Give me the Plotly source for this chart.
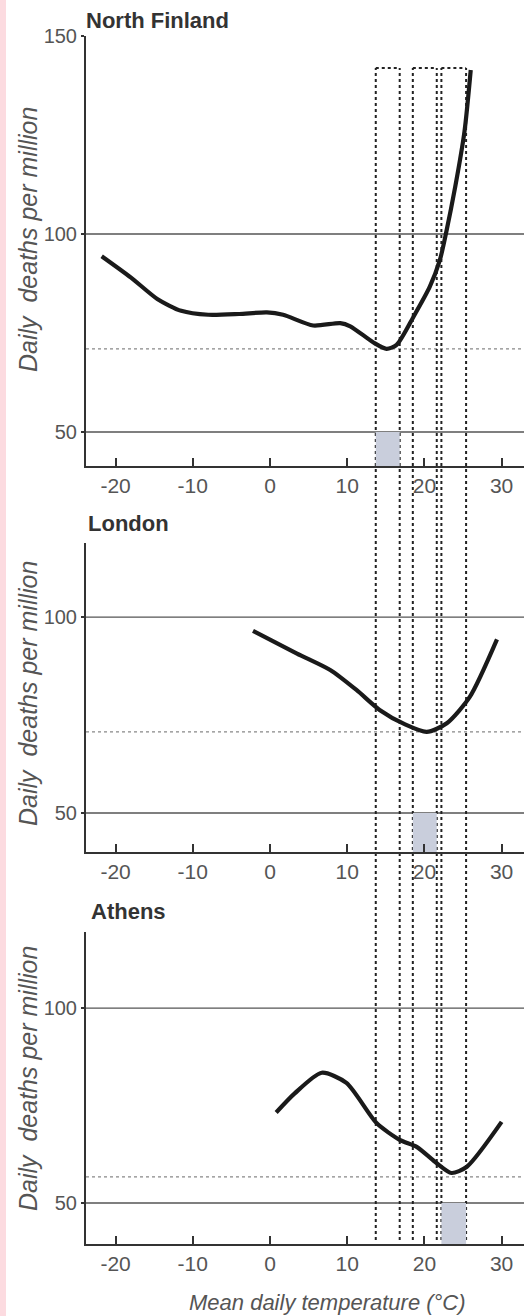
import plotly.graph_objects as go

# ---------------- data ----------------
panel_titles = ["North Finland", "London", "Athens"]

temps_finland = [-21.8, -18.0, -14.6, -11.5, -8.0, -4.0, -0.4, 1.7, 5.6, 9.1, 10.4,
                 13.4, 15.1, 16.4, 18.7, 20.7, 22.0, 22.8, 24.0, 25.2, 26.0]
deaths_finland = [94.4, 89.0, 83.6, 80.6, 79.6, 79.8, 80.2, 79.6, 76.9, 77.5, 76.7,
                  72.6, 71.0, 72.0, 79.5, 86.7, 93.4, 100.2, 112.0, 126.0, 141.4]

temps_london = [-2.2, 3.5, 7.8, 11.2, 14.2, 17.5, 20.3, 22.9, 25.9, 29.4]
deaths_london = [96.5, 90.7, 86.5, 81.4, 76.3, 72.6, 70.7, 72.9, 79.7, 94.3]

temps_athens = [0.8, 3.2, 6.7, 9.9, 13.8, 16.8, 19.0, 21.6, 23.5, 25.5, 30.0]
deaths_athens = [73.2, 78.1, 83.4, 80.8, 70.5, 66.2, 64.4, 60.2, 57.7, 59.3, 70.8]

minimum_levels = [71.0, 70.7, 56.7]          # dotted horizontal lines
reference_levels = [50, 100]                 # solid horizontal lines
optimum_ranges = [(13.7, 16.8), (18.5, 21.6), (22.2, 25.4)]  # dotted boxes / shading

x_ticks = [-20, -10, 0, 10, 20, 30]
y_ticks = [[50, 100, 150], [50, 100], [50, 100]]

# ---------------- layout helpers ----------------
W, H = 530, 1316
def py(p):
    return 1 - p / H
def px(p):
    return p / W

x_range = [-23.83, 32.9]
x_domain = [px(86), px(524)]
y_domains = [[py(466), py(36)], [py(852), py(543)], [py(1244), py(932)]]
y_ranges = [[41.41, 150], [40.05, 118.9], [39.49, 119.5]]

FONT = "Liberation Sans, Arial, sans-serif"
series = [(temps_finland, deaths_finland), (temps_london, deaths_london),
          (temps_athens, deaths_athens)]

fig = go.Figure()
shapes = []
annotations = []

for i, (t, d) in enumerate(series):
    n = "" if i == 0 else str(i + 1)
    xa, ya = "x" + n, "y" + n
    fig.add_trace(go.Scatter(
        x=t, y=d, mode="lines", xaxis=xa, yaxis=ya,
        line=dict(color="#1a1a1a", width=4.2, shape="spline", smoothing=0.7),
        showlegend=False, hoverinfo="skip"))

    axis_x = dict(domain=x_domain, range=x_range, anchor=ya, automargin=False,
                  tickvals=x_ticks, ticktext=[str(v) for v in x_ticks],
                  ticks="inside", ticklen=8, tickwidth=1.5, tickcolor="#333",
                  showline=True, linecolor="#333", linewidth=2,
                  showgrid=False, zeroline=False,
                  tickfont=dict(family=FONT, size=21, color="#555"))
    axis_y = dict(domain=y_domains[i], range=y_ranges[i], anchor=xa, automargin=False,
                  tickvals=y_ticks[i], ticktext=[str(v) for v in y_ticks[i]],
                  ticks="outside", ticklen=3, tickwidth=1.5, tickcolor="#333",
                  showline=True, linecolor="#333", linewidth=2,
                  showgrid=False, zeroline=False,
                  tickfont=dict(family=FONT, size=20, color="#555"))
    fig.update_layout(**{"xaxis" + n: axis_x, "yaxis" + n: axis_y})

    # shaded optimum band between axis and 50 line
    lo, hi = optimum_ranges[i]
    shapes.append(dict(type="rect", xref=xa, yref=ya, x0=lo, x1=hi,
                       y0=y_ranges[i][0], y1=reference_levels[0],
                       fillcolor="#c9cedc", line=dict(width=0), layer="below"))
    # reference lines
    for lvl in reference_levels:
        shapes.append(dict(type="line", xref="paper", yref=ya,
                           x0=x_domain[0], x1=x_domain[1], y0=lvl, y1=lvl,
                           line=dict(color="#555", width=1.3), layer="below"))
    # dotted minimum line
    shapes.append(dict(type="line", xref="paper", yref=ya,
                       x0=x_domain[0], x1=x_domain[1],
                       y0=minimum_levels[i], y1=minimum_levels[i],
                       line=dict(color="#888", width=1.3, dash="dot"), layer="below"))

    annotations.append(dict(
        text="<i>Daily\u00a0 deaths per million</i>", textangle=-90,
        xref="paper", yref="paper", x=px(28), y=py([240, 694, 1079][i]),
        xanchor="center", yanchor="middle", showarrow=False,
        font=dict(family=FONT, size=25, color="#555")))
    annotations.append(dict(
        text="<b>" + panel_titles[i] + "</b>",
        xref="paper", yref="paper", x=px([84, 86, 89][i]), y=py([21, 523, 911][i]),
        xanchor="left", yanchor="middle", showarrow=False,
        font=dict(family=FONT, size=22, color="#333")))

# dotted boxes spanning all panels
box_top, box_bottom = py(68), py(1240)
for lo, hi in optimum_ranges:
    for xv in (lo, hi):
        shapes.append(dict(type="line", xref="x", yref="paper", x0=xv, x1=xv,
                           y0=box_bottom, y1=box_top,
                           line=dict(color="#222", width=2, dash="dot"), layer="below"))
    shapes.append(dict(type="line", xref="x", yref="paper", x0=lo, x1=hi,
                       y0=box_top, y1=box_top,
                       line=dict(color="#222", width=2, dash="dot"), layer="below"))

# pink strip on the left
shapes.append(dict(type="rect", xref="paper", yref="paper", x0=0, x1=px(6), y0=0, y1=1,
                   fillcolor="#fcdbe0", line=dict(width=0), layer="below"))

annotations.append(dict(
    text="<i>Mean daily temperature (°C)</i>", xref="paper", yref="paper",
    x=px(327), y=py(1302), xanchor="center", yanchor="middle", showarrow=False,
    font=dict(family=FONT, size=22, color="#555")))

fig.update_layout(
    width=W, height=H, autosize=False,
    margin=dict(l=0, r=0, t=0, b=0, pad=0),
    paper_bgcolor="white", plot_bgcolor="rgba(0,0,0,0)",
    shapes=shapes, annotations=annotations, showlegend=False)

fig.write_html("out.html")
